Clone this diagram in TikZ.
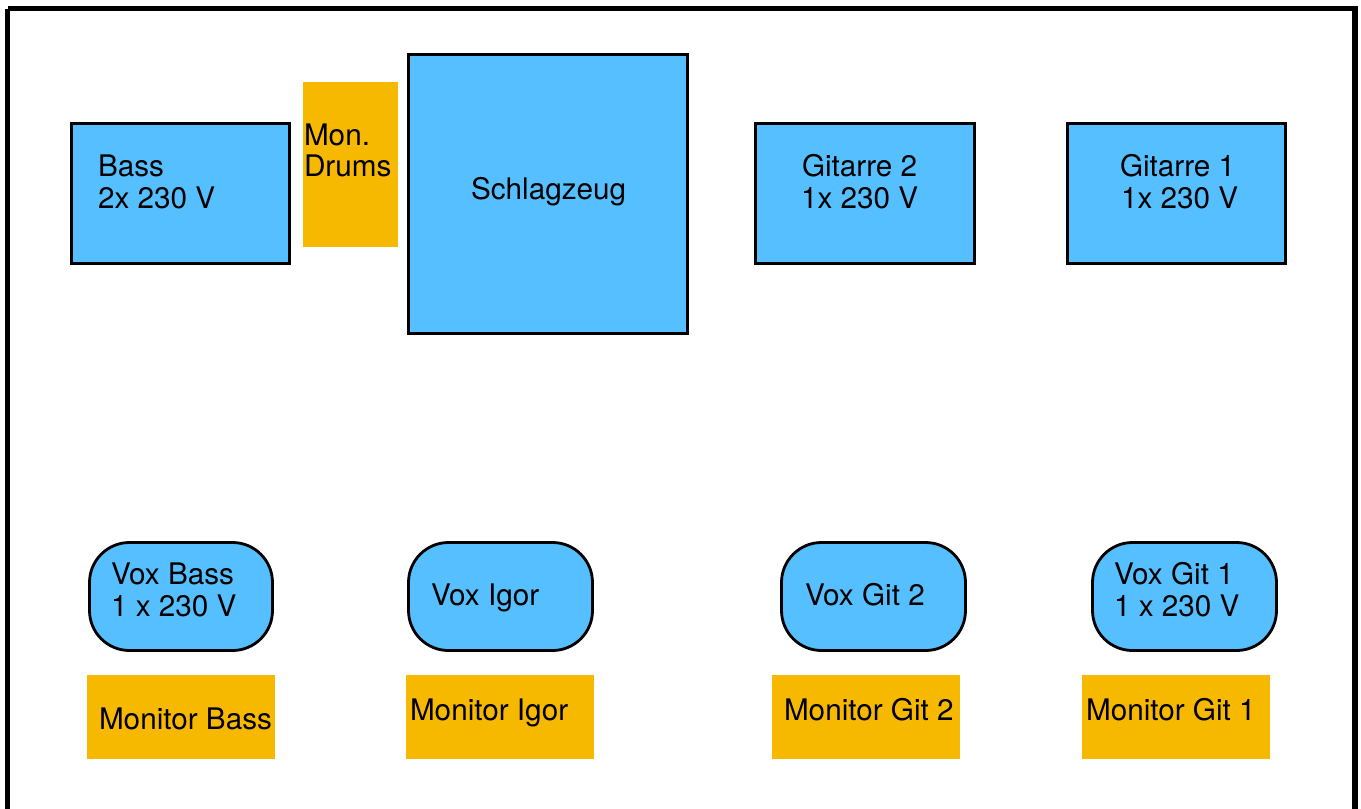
\documentclass[tikz,border=0pt]{standalone}
\usepackage{fontspec}
\setmainfont{TeX Gyre Heros}
\definecolor{boxblue}{RGB}{86,191,255}
\definecolor{monorange}{RGB}{247,185,0}
\begin{document}
\begin{tikzpicture}[x=1pt,y=-1pt,
  bluebox/.style={draw=black,line width=2.8pt,fill=boxblue,inner sep=0pt,outer sep=0pt,anchor=north west},
  voxbox/.style={bluebox,rounded corners=40pt},
  monbox/.style={fill=monorange,inner sep=0pt,outer sep=0pt,anchor=north west},
  lbl/.style={inner sep=0pt,outer sep=0pt,anchor=base west,font=\fontsize{29.7}{32}\selectfont},
  frame/.style={draw=black,line width=5.5pt}]
\useasboundingbox (0,0) rectangle (1361,809);
\fill[white] (0,0) rectangle (1361,809);
\draw[frame] (7.5,8.5) -- (1355,8.5) -- (1355,830) (7.5,8.5) -- (7.5,830);
% top row
\node[bluebox,minimum width=218pt,minimum height=140pt] (bass) at (71.5,123.5) {};
\node[monbox,minimum width=95pt,minimum height=165pt] (mondrums) at (303,82) {};
\node[bluebox,minimum width=279pt,minimum height=279pt] (drums) at (408.5,54.5) {};
\node[bluebox,minimum width=219pt,minimum height=140pt] (git2) at (755.5,123.5) {};
\node[bluebox,minimum width=218pt,minimum height=140pt] (git1) at (1067.5,123.5) {};
% vox row
\node[voxbox,minimum width=183pt,minimum height=108pt] (voxbass) at (89.5,542.5) {};
\node[voxbox,minimum width=184pt,minimum height=108pt] (voxigor) at (408.5,542.5) {};
\node[voxbox,minimum width=184pt,minimum height=108pt] (voxgit2) at (781.5,542.5) {};
\node[voxbox,minimum width=184pt,minimum height=108pt] (voxgit1) at (1092.5,542.5) {};
% monitors
\node[monbox,minimum width=188pt,minimum height=84pt] (monbass) at (87,675) {};
\node[monbox,minimum width=188pt,minimum height=84pt] (monigor) at (406,675) {};
\node[monbox,minimum width=188pt,minimum height=84pt] (mongit2) at (772,675) {};
\node[monbox,minimum width=188pt,minimum height=84pt] (mongit1) at (1082,675) {};
% labels
\node[lbl] (bassA) at (98,176) {Bass};
\node[lbl] (bassB) at (98,208) {2x 230 V};
\node[lbl] (mondA) at (304,145) {Mon.};
\node[lbl] (mondB) at (304,176) {Drums};
\node[lbl] (drumsT) at (471,199) {Schlagzeug};
\node[lbl] (git2A) at (802,176) {Gitarre 2};
\node[lbl] (git2B) at (801,208) {1x 230 V};
\node[lbl] (git1A) at (1120,176) {Gitarre 1};
\node[lbl] (git1B) at (1121,208) {1x 230 V};
\node[lbl] (voxbassA) at (111,584) {Vox Bass};
\node[lbl] (voxbassB) at (111,616) {1 x 230 V};
\node[lbl] (voxigorT) at (431,605) {Vox Igor};
\node[lbl] (voxgit2T) at (805,605) {Vox Git 2};
\node[lbl] (voxgit1A) at (1114,584) {Vox Git 1};
\node[lbl] (voxgit1B) at (1114,616) {1 x 230 V};
\node[lbl] (monbassT) at (99,729) {Monitor Bass};
\node[lbl] (monigorT) at (410,720) {Monitor Igor};
\node[lbl] (mongit2T) at (784,720) {Monitor Git 2};
\node[lbl] (mongit1T) at (1086,720) {Monitor Git 1};
\end{tikzpicture}
\end{document}
